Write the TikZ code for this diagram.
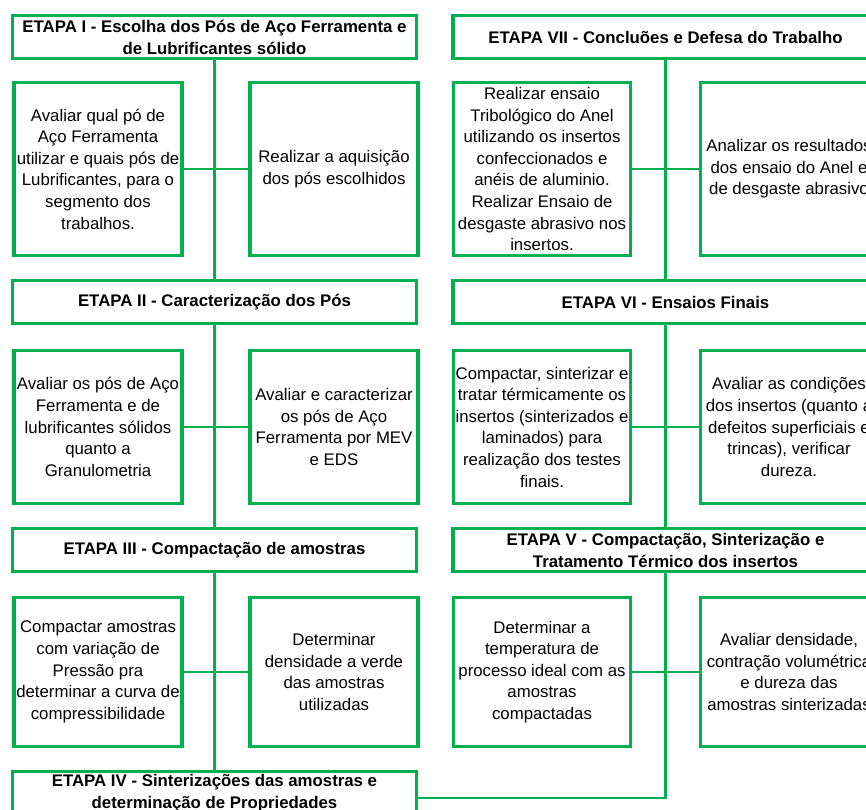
\documentclass[tikz,border=0pt]{standalone}
\usepackage{fontspec}
\setmainfont{Liberation Sans}
\definecolor{officegreen}{HTML}{00B050}
\tikzset{
  box/.style={draw=officegreen, line width=3.3pt, fill=white, inner sep=0pt,
    align=center, font=\fontsize{16.8}{21.6}\selectfont},
  titlebox/.style={box, minimum height=43pt, font=\bfseries\fontsize{16.8}{22}\selectfont},
  leftbox/.style={box, minimum width=168pt},
  rightbox/.style={box, minimum width=177pt},
  conn/.style={draw=officegreen, line width=2.7pt}
}
\begin{document}
\begin{tikzpicture}[x=1pt, y=-1pt]
\useasboundingbox (0,0) rectangle (866,809);
\clip (0,0) rectangle (866,809);

% connectors first, so the boxes sit on top of them
\coordinate (lv1) at (214.5,37);
\coordinate (lv4) at (214.5,793);
\draw[conn] (lv1) -- (lv4);
\coordinate (rv1) at (665.5,37);
\coordinate (rv5) at (665.5,798);
\coordinate (t4r) at (416.5,798);
\draw[conn] (rv1) -- (rv5) -- (t4r);

% left column: stages I to IV
\node[titlebox, minimum width=404pt] (t1) at (214.5,37)
  {ETAPA I - Escolha dos Pós de Aço Ferramenta e\\de Lubrificantes sólido};
\node[leftbox, minimum height=173pt] (l1a) at (98,169)
  {Avaliar qual pó de\\Aço Ferramenta\\utilizar e quais pós de\\Lubrificantes, para o\\segmento dos\\trabalhos.};
\node[leftbox, minimum height=173pt] (l1b) at (334,169)
  {Realizar a aquisição\\dos pós escolhidos};

\node[titlebox, minimum width=404pt] (t2) at (214.5,302)
  {ETAPA II - Caracterização dos Pós};
\node[leftbox, minimum height=153pt] (l2a) at (98,427)
  {Avaliar os pós de Aço\\Ferramenta e de\\lubrificantes sólidos\\quanto a\\Granulometria};
\node[leftbox, minimum height=153pt] (l2b) at (334,427)
  {Avaliar e caracterizar\\os pós de Aço\\Ferramenta por MEV\\e EDS};

\node[titlebox, minimum width=404pt] (t3) at (214.5,550)
  {ETAPA III - Compactação de amostras};
\node[leftbox, minimum height=149pt] (l3a) at (98,672)
  {Compactar amostras\\com variação de\\Pressão pra\\determinar a curva de\\compressibilidade};
\node[leftbox, minimum height=149pt] (l3b) at (334,672)
  {Determinar\\densidade a verde\\das amostras\\utilizadas};

\node[titlebox, minimum width=404pt] (t4) at (214.5,793)
  {ETAPA IV - Sinterizações das amostras e\\determinação de Propriedades};

% right column: stages VII to V
\node[titlebox, minimum width=425pt] (t7) at (665.5,37)
  {ETAPA VII - Concluões e Defesa do Trabalho};
\node[rightbox, minimum height=173pt] (r7a) at (542,169)
  {Realizar ensaio\\Tribológico do Anel\\utilizando os insertos\\confeccionados e\\anéis de aluminio.\\Realizar Ensaio de\\desgaste abrasivo nos\\insertos.};
\node[rightbox, minimum height=173pt] (r7b) at (789,169)
  {Analizar os resultados\\dos ensaio do Anel e\\de desgaste abrasivo};

\node[titlebox, minimum width=425pt] (t6) at (665.5,302)
  {ETAPA VI - Ensaios Finais};
\node[rightbox, minimum height=153pt] (r6a) at (542,427)
  {Compactar, sinterizar e\\tratar térmicamente os\\insertos (sinterizados e\\laminados) para\\realização dos testes\\finais.};
\node[rightbox, minimum height=153pt] (r6b) at (789,427)
  {Avaliar as condições\\dos insertos (quanto a\\defeitos superficiais e\\trincas), verificar\\dureza.};

\node[titlebox, minimum width=425pt] (t5) at (665.5,550)
  {ETAPA V - Compactação, Sinterização e\\Tratamento Térmico dos insertos};
\node[rightbox, minimum height=149pt] (r5a) at (542,672)
  {Determinar a\\temperatura de\\processo ideal com as\\amostras\\compactadas};
\node[rightbox, minimum height=149pt] (r5b) at (789,672)
  {Avaliar densidade,\\contração volumétrica\\e dureza das\\amostras sinterizadas};

% horizontal links between the paired task boxes
\draw[conn] (l1a.east) -- (l1b.west);
\draw[conn] (l2a.east) -- (l2b.west);
\draw[conn] (l3a.east) -- (l3b.west);
\draw[conn] (r7a.east) -- (r7b.west);
\draw[conn] (r6a.east) -- (r6b.west);
\draw[conn] (r5a.east) -- (r5b.west);
\end{tikzpicture}
\end{document}
